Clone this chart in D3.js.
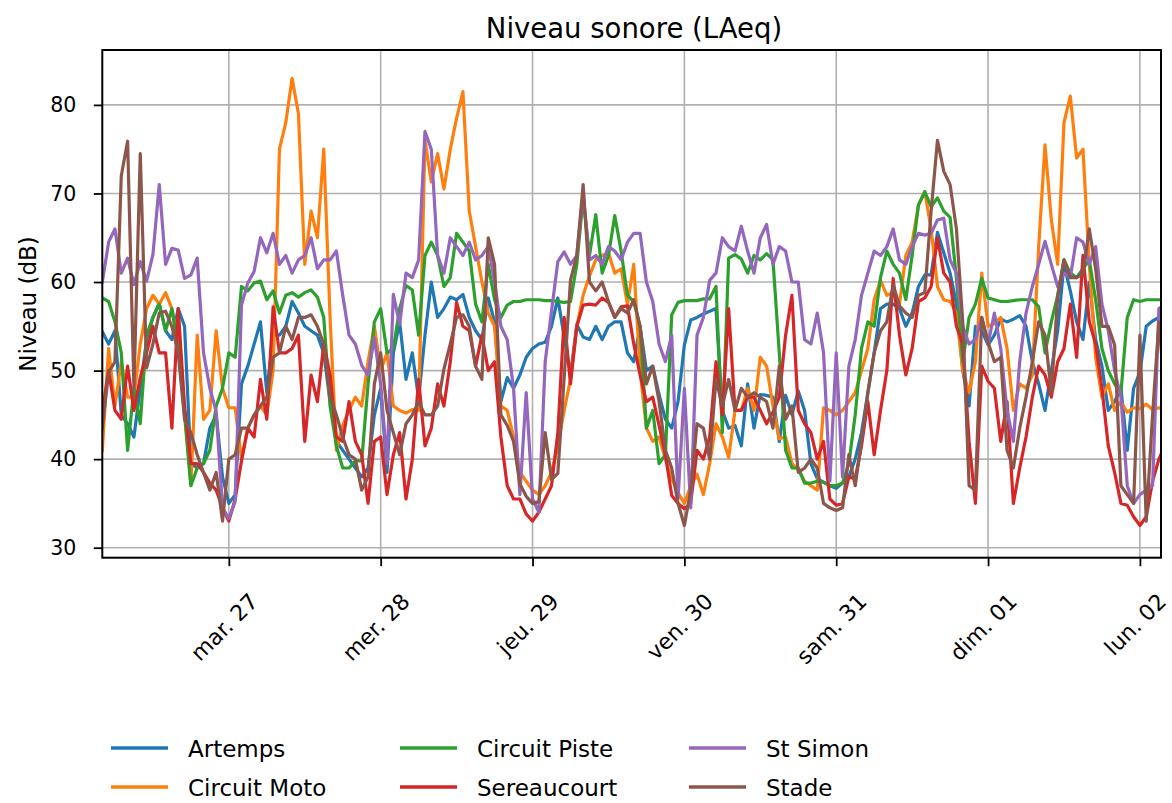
<!DOCTYPE html>
<html><head><meta charset="utf-8">
<script src="https://cdn.jsdelivr.net/npm/d3@7"></script>
<style>
body{margin:0;background:#fff}
svg{display:block}
text{font-family:"DejaVu Sans",sans-serif;fill:#000}
</style>
</head><body>
<svg id="c" width="1172" height="803"></svg>
<script>
// ---------------- data (hourly, from 26 March 04:00) ----------------
const seriesNames = ["Artemps","Circuit Moto","Circuit Piste","Sereaucourt","St Simon","Stade"];
const seriesColors = ["#1f77b4","#ff7f0e","#2ca02c","#d62728","#9467bd","#8c564b"];
const tickLabels = ["mar. 27","mer. 28","jeu. 29","ven. 30","sam. 31","dim. 01","lun. 02"];
const yTickValues = [30,40,50,60,70,80];

const artemps = [
54.4,53,54.5,45,44,42.5,48,53.5,56,57.6,
54.5,53.5,57,55,39.5,39,39.5,43.5,45,38,
35,36,48.5,50.5,53,55.5,47.5,54,54,55,
57.8,56.5,55,54.5,54,52,46.5,42,41,40,
39,38,39,45,48,38.5,52,55.5,49,52,
46.8,54,60,56,57,58.3,58,58.6,56,54.5,
53.5,58.2,55.5,46.5,49.2,48,49.5,51.5,52.5,53,
53.2,55,58.2,53.8,49.5,55.2,53.8,53.5,55,53.5,
55,55.5,55.5,52,51,55,50,50.5,47.3,44.5,
43.5,46.5,52.9,55.7,56,56.4,56.7,57,45.5,43.5,
43.8,41.5,48.5,43.5,47.3,47.2,47,42,47.2,45,
47.7,45.5,39.5,37.8,37.4,37,36.7,37.3,38,40,
43,47.5,52,57,57.5,57.5,57,55,56.5,59.5,
60.8,60.8,65.6,63.3,61,57.5,50,46,55,54.5,
52.9,54,55.8,55.5,55.8,56.2,55,51,48.5,45.5,
50,54.5,62,59,55.5,53.5,60,53.5,50.5,45.5,
46.5,48,41,48,49.8,55,55.6,56,55.8];

const circuitMoto = [
41,52.5,46,51,47,47,53,57,58.5,57.5,
58.8,57,53,45.5,37,54,44.5,45.5,54.5,48,
45.8,45.8,40,43.5,45,46,45,50,75,78,
83,79,62,68,65,75,56,41,43.8,45.5,
47,46,51,55,50,52,46,45.5,45.2,45.6,
45.5,76,71.3,74.5,70.5,75,78.5,81.5,68,64,
60,56.5,55,46,45.5,42.5,38.5,37.5,36.5,36,
37,38.5,41.5,45.5,49,55,58.5,60.7,62.5,63,
63.3,61,61.5,57.5,62,50,43.5,42,42.5,40,
37.8,36.2,35,37,38.3,36,39.5,44,42.5,40.2,
45.5,45.5,48,45.5,51.5,50.5,46,42.3,42.5,39.5,
38.8,37.5,37,36.5,45.8,45.5,45,45.5,46.5,47.5,
50,52.5,58,60.2,58.5,58.8,57.5,63,64.5,68.7,
70.2,66,59.5,58,57.8,56.5,50,47.5,51,61,
55,55.3,56,52.5,45.5,48.5,48,49.5,64,75.5,
67,62,78,81,74,75,62,51.5,47,48.5,
45.5,46.5,45.3,45.8,45.7,46.2,45.6,45.8,45.5];

const circuitPiste = [
58.2,57.8,55.5,52,41,48,44,54,56,57.5,
54.5,57,52.5,45,37,39,39.5,41,46,48,
52,51.5,59.5,59,59.9,60.1,58,59,56.5,58.5,
58.8,58.3,58.8,59.1,58.3,56,46,41.5,39,39,
39.8,39.8,48.4,55.5,57,52,52.5,57,59.6,59.1,
54,63,64.5,63,59.5,60.5,65.5,64.5,63.5,57.5,
55.5,62,58,56,57.4,57.8,57.8,58,58,58,
57.9,57.9,57.8,57.7,57.8,62,69.5,63,67.6,61,
63,67.5,63.5,58.5,57.8,55,43.5,45.5,39.5,40.5,
56.3,57.7,57.9,57.9,57.9,58.1,58.1,59.5,43,62.7,
63.1,62.6,61,63,62.5,63.2,62.5,52,41,39,
39,37.3,37.3,37.5,37.4,37,37,37.3,39.5,45,
52.5,55.5,55,60.5,63.5,62,61,58,63,68.7,
70.2,68.5,69.5,68,67.3,60.4,51,56,57.5,60.4,
58.2,58,57.8,57.8,57.9,58,58,58,57.2,52,
55.5,58.5,62.5,61,60.5,61.5,62.5,58,52.5,50,
48.5,47.5,56,58,57.8,58,58,58,58];

const sereaucourt = [
45.4,50,45.5,44.5,50.5,45.5,49.2,52,55,52,
52,43.5,57,46,39.5,39.5,38.5,37.3,36.5,34.5,
33,35.5,39.8,43.5,42.5,49,44.5,57.2,52,52,
52.5,54,42,49.5,46.5,53,49.5,42.5,42,46.5,
42,40.5,35,42,42.5,36,40.5,43,35.5,40,
49,41.5,43.5,48.5,46,51,57.7,55,54.5,50.5,
54,50,51,42.5,37,35.5,35.5,33.8,33,34,
35.5,37,43,56,48.5,55,57.4,57.5,57.4,58.2,
57.7,56,57.2,57.3,53,49.5,46.5,47,43.8,40.5,
35.9,35,34.4,35,41,40,42.5,51,45,57,
45.5,45.5,47,47,45.5,44,45.3,47,54,58.5,
45.5,44,43,40,42,35.5,34.8,35,38,37.8,
41.5,46.5,40.5,45.5,50,60.4,54,49.5,52.5,57.8,
58.2,59.5,65,61,60,55,53,42,35,50.5,
48.8,48,42,46.5,35,39,42.5,47,50.5,49.5,
47,51,52.5,57.5,51.5,63,55.5,53,48,41.5,
38.5,35,34.8,33.5,32.5,33.5,37.5,40,41.6];

const stSimon = [
60,64.5,66,61,62.7,59.7,62.3,60.1,63.1,71,
62,63.8,63.6,60.4,60.8,62.7,52,48,45.4,34.5,
33.3,35.2,57.4,59.9,61.2,65,63.3,65.5,62,63,
61,62.5,63,65,61.5,62.5,62.5,63.5,58.5,54,
53,50.6,49.5,53.7,48.4,39.5,58.6,55.2,61,60.5,
62.5,77,75,63,61,65,64,63,64.5,62.5,
63,64,60,55,53.5,48,36,47.5,35.5,34,
51,56.7,62.3,63.4,62,63,70,62.5,63,62,
64,63.5,62.5,64.5,65.5,65.5,60,57.8,53,51,
54,35.5,48,34.5,54,56,60.2,61,65,64,
63.5,66.3,63.5,61,65,66.5,62,64,63.5,60,
60,53.5,53,56.5,52,37.5,52,38,50.5,53.5,
58.5,61,63.5,63,64,66,62.5,62,64,65.5,
65.3,65.5,67,67.2,62.5,61,55,53,53.5,56,
53,56.5,52.5,45.5,42,51,56.5,59.5,62,64.6,
62,59.5,61,60.5,65,64.5,62,64,57.5,54.5,
50,47,37,35,36,36.5,37,57,57.5];

const stade = [
43.5,49.8,51,72,75.9,48,74.5,50.3,53,56.5,
56.7,55,52,44.5,43,40.5,38.5,36.5,38.5,33,
40,40.5,43.5,43.5,45,46,47,51.5,52,55,
53.5,56,56,56.3,55,53,47,45,42.5,40.5,
40,36.5,38,48.5,52,45.5,43,40.5,44,45,
46.5,45,45,46,50.2,53,56,56.3,55,50.5,
49,65,62,45,43.8,42,37.2,35.8,35,35.2,
43,37.7,38.4,49.2,60.2,63,71,60,59,60,
57.8,56,57,56.5,58,55,48.5,50.5,46.5,41,
39,35,32.5,36.5,44,43.5,40,49,46,49,
45.5,48,47,47.5,47,46.5,43.5,50.5,44.5,46,
38.5,39,40,39,35,34.5,34.2,34.5,40.5,37,
42,47.5,52,54.5,55.5,59.7,57.3,56.5,56,58.5,
58.8,68,76,72.5,71,66,55.5,37,36.5,56,
53.2,51,51.5,41,39,43.5,47,51,55.5,54,
47.5,58.3,62.5,60.5,60.5,61,66,61.5,55,55,
52.9,37,36,35,54,33,45,55.5,47];

const seriesValues = [artemps, circuitMoto, circuitPiste, sereaucourt, stSimon, stade];

// ---------------- layout ----------------
const L = 102.3, R = 1161, T = 50, B = 557.7;
const svg = d3.select("#c");
const start = Date.UTC(2018, 2, 26, 4);
const times = d3.range(artemps.length).map(i => new Date(start + i * 3600e3));
const tickDates = tickLabels.map((_, k) => new Date(Date.UTC(2018, 2, 27 + k)));

const x = d3.scaleUtc().domain([new Date(start), new Date(Date.UTC(2018, 3, 2, 3, 20))]).range([L, R]);
const y = d3.scaleLinear().domain([28.87, 86.2]).range([B, T]);

svg.append("defs").append("clipPath").attr("id","clip")
  .append("rect").attr("x", L).attr("y", T).attr("width", R - L).attr("height", B - T);

// grid
const grid = svg.append("g");
grid.selectAll(".gx").data(tickDates).join("line")
  .attr("x1", d => x(d)).attr("x2", d => x(d)).attr("y1", T).attr("y2", B)
  .attr("stroke", "#b0b0b0").attr("stroke-width", 1.6);
grid.selectAll(".gy").data(yTickValues).join("line")
  .attr("x1", L).attr("x2", R).attr("y1", d => y(d)).attr("y2", d => y(d))
  .attr("stroke", "#b0b0b0").attr("stroke-width", 1.6);

// lines
const line = d3.line().x((d, i) => x(times[i])).y(d => y(d));
const lg = svg.append("g").attr("clip-path", "url(#clip)");
seriesValues.forEach((vals, k) => {
  lg.append("path").attr("d", line(vals)).attr("fill", "none")
    .attr("stroke", seriesColors[k]).attr("stroke-width", 3.2)
    .attr("stroke-linejoin", "round").attr("stroke-linecap", "square");
});

// axes
const xAxis = d3.axisBottom(x).tickValues(tickDates).tickFormat((d, i) => tickLabels[i]).tickSize(8.5).tickSizeOuter(0);
const gx = svg.append("g").attr("transform", `translate(0,${B})`).call(xAxis);
gx.select(".domain").remove();
gx.selectAll(".tick line").attr("stroke", "#000").attr("stroke-width", 1.8);
gx.selectAll(".tick text").each(function(d) {
  const t = d3.select(this);
  t.attr("font-size", 22).attr("font-family", "DejaVu Sans").attr("fill", "#000")
   .attr("text-anchor", "middle").attr("dy", null).attr("y", null)
   .attr("dominant-baseline", "central");
  const len = this.getComputedTextLength();
  const cy = 592 - B + (len / 2 + 8) * 0.7071;
  t.attr("x", null).attr("transform", `translate(-5,${cy}) rotate(-45)`);
});

const yAxis = d3.axisLeft(y).tickValues(yTickValues).tickSize(8.5).tickSizeOuter(0).tickPadding(17.5);
const gy = svg.append("g").attr("transform", `translate(${L},0)`).call(yAxis);
gy.select(".domain").remove();
gy.selectAll(".tick line").attr("stroke", "#000").attr("stroke-width", 1.8);
gy.selectAll(".tick text").attr("font-size", 20.5).attr("font-family", "DejaVu Sans").attr("fill", "#000");

// frame
svg.append("rect").attr("x", L).attr("y", T).attr("width", R - L).attr("height", B - T)
  .attr("fill", "none").attr("stroke", "#000").attr("stroke-width", 2);

// title and y label
svg.append("text").attr("x", 634).attr("y", 38).attr("text-anchor", "middle")
  .attr("font-size", 27.5).text("Niveau sonore (LAeq)");
svg.append("text").attr("transform", "translate(36,304) rotate(-90)").attr("text-anchor", "middle")
  .attr("font-size", 23).text("Niveau (dB)");

// legend (column-major, 3 columns x 2 rows)
const colX = [111, 400, 689], rowY = [748, 787];
const leg = svg.append("g");
seriesNames.forEach((name, k) => {
  const c = Math.floor(k / 2), r = k % 2;
  leg.append("line").attr("x1", colX[c]).attr("x2", colX[c] + 57)
    .attr("y1", rowY[r]).attr("y2", rowY[r])
    .attr("stroke", seriesColors[k]).attr("stroke-width", 3.5);
  leg.append("text").attr("x", colX[c] + 77).attr("y", rowY[r] + 8.5)
    .attr("font-size", 23).text(name);
});
</script>
</body></html>
